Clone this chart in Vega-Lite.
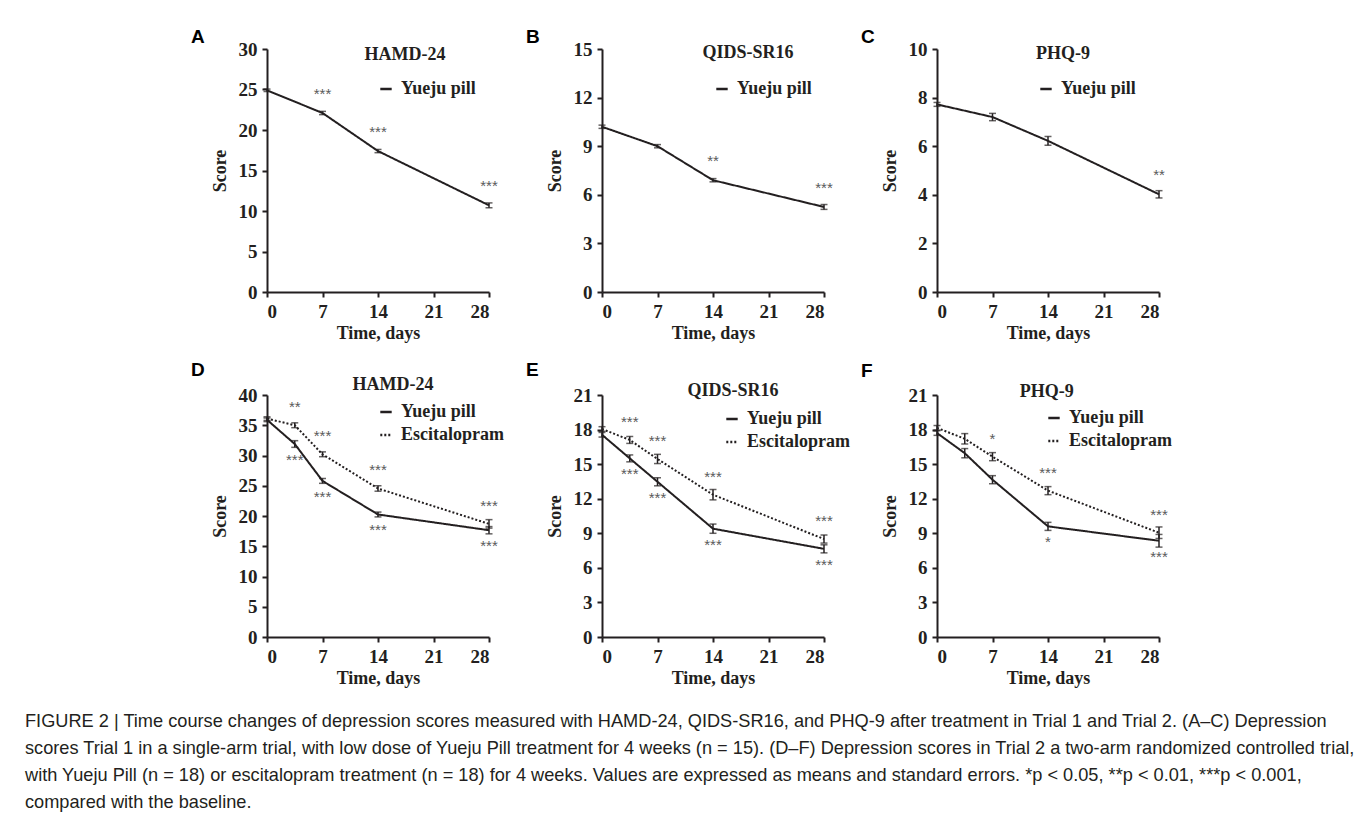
{
  "$schema": "https://vega.github.io/schema/vega-lite/v6.json",
  "autosize": {"type": "none"},
  "padding": {"left": 267, "top": 49, "right": 1090, "bottom": 784},
  "background": "white",
  "datasets": {
    "d": [
      {"panel": "A", "group": "Yueju pill", "day": 0, "mean": 24.9, "se": 0.15, "sig": ""},
      {"panel": "A", "group": "Yueju pill", "day": 7, "mean": 22.1, "se": 0.2, "sig": "***"},
      {"panel": "A", "group": "Yueju pill", "day": 14, "mean": 17.4, "se": 0.2, "sig": "***"},
      {"panel": "A", "group": "Yueju pill", "day": 28, "mean": 10.7, "se": 0.3, "sig": "***"},
      {"panel": "B", "group": "Yueju pill", "day": 0, "mean": 10.2, "se": 0.1, "sig": ""},
      {"panel": "B", "group": "Yueju pill", "day": 7, "mean": 9.0, "se": 0.1, "sig": ""},
      {"panel": "B", "group": "Yueju pill", "day": 14, "mean": 6.9, "se": 0.1, "sig": "**"},
      {"panel": "B", "group": "Yueju pill", "day": 28, "mean": 5.25, "se": 0.15, "sig": "***"},
      {"panel": "C", "group": "Yueju pill", "day": 0, "mean": 7.72, "se": 0.08, "sig": ""},
      {"panel": "C", "group": "Yueju pill", "day": 7, "mean": 7.2, "se": 0.15, "sig": ""},
      {"panel": "C", "group": "Yueju pill", "day": 14, "mean": 6.22, "se": 0.18, "sig": ""},
      {"panel": "C", "group": "Yueju pill", "day": 28, "mean": 4.02, "se": 0.15, "sig": "**"},
      {"panel": "D", "group": "Yueju pill", "day": 0, "mean": 35.9, "se": 0.3, "sig": ""},
      {"panel": "D", "group": "Yueju pill", "day": 3.5, "mean": 31.9, "se": 0.55, "sig": "***"},
      {"panel": "D", "group": "Yueju pill", "day": 7, "mean": 25.8, "se": 0.4, "sig": "***"},
      {"panel": "D", "group": "Yueju pill", "day": 14, "mean": 20.25, "se": 0.4, "sig": "***"},
      {"panel": "D", "group": "Yueju pill", "day": 28, "mean": 17.65, "se": 0.6, "sig": "***"},
      {"panel": "D", "group": "Escitalopram", "day": 0, "mean": 36.1, "se": 0.3, "sig": ""},
      {"panel": "D", "group": "Escitalopram", "day": 3.5, "mean": 35.0, "se": 0.4, "sig": "**"},
      {"panel": "D", "group": "Escitalopram", "day": 7, "mean": 30.2, "se": 0.4, "sig": "***"},
      {"panel": "D", "group": "Escitalopram", "day": 14, "mean": 24.55, "se": 0.45, "sig": "***"},
      {"panel": "D", "group": "Escitalopram", "day": 28, "mean": 18.7, "se": 0.7, "sig": "***"},
      {"panel": "E", "group": "Yueju pill", "day": 0, "mean": 17.55, "se": 0.2, "sig": ""},
      {"panel": "E", "group": "Yueju pill", "day": 3.5, "mean": 15.5, "se": 0.3, "sig": "***"},
      {"panel": "E", "group": "Yueju pill", "day": 7, "mean": 13.47, "se": 0.35, "sig": "***"},
      {"panel": "E", "group": "Yueju pill", "day": 14, "mean": 9.4, "se": 0.4, "sig": "***"},
      {"panel": "E", "group": "Yueju pill", "day": 28, "mean": 7.65, "se": 0.35, "sig": "***"},
      {"panel": "E", "group": "Escitalopram", "day": 0, "mean": 18.05, "se": 0.2, "sig": ""},
      {"panel": "E", "group": "Escitalopram", "day": 3.5, "mean": 17.1, "se": 0.3, "sig": "***"},
      {"panel": "E", "group": "Escitalopram", "day": 7, "mean": 15.45, "se": 0.4, "sig": "***"},
      {"panel": "E", "group": "Escitalopram", "day": 14, "mean": 12.35, "se": 0.45, "sig": "***"},
      {"panel": "E", "group": "Escitalopram", "day": 28, "mean": 8.5, "se": 0.35, "sig": "***"},
      {"panel": "F", "group": "Yueju pill", "day": 0, "mean": 17.7, "se": 0.2, "sig": ""},
      {"panel": "F", "group": "Yueju pill", "day": 3.5, "mean": 15.95, "se": 0.4, "sig": ""},
      {"panel": "F", "group": "Yueju pill", "day": 7, "mean": 13.65, "se": 0.35, "sig": ""},
      {"panel": "F", "group": "Yueju pill", "day": 14, "mean": 9.6, "se": 0.35, "sig": "*"},
      {"panel": "F", "group": "Yueju pill", "day": 28, "mean": 8.35, "se": 0.55, "sig": "***"},
      {"panel": "F", "group": "Escitalopram", "day": 0, "mean": 18.15, "se": 0.2, "sig": ""},
      {"panel": "F", "group": "Escitalopram", "day": 3.5, "mean": 17.2, "se": 0.45, "sig": ""},
      {"panel": "F", "group": "Escitalopram", "day": 7, "mean": 15.65, "se": 0.35, "sig": "*"},
      {"panel": "F", "group": "Escitalopram", "day": 14, "mean": 12.7, "se": 0.35, "sig": "***"},
      {"panel": "F", "group": "Escitalopram", "day": 28, "mean": 9.05, "se": 0.5, "sig": "***"}
    ],
    "names": [
      {"panel": "A", "label": "HAMD-24"},
      {"panel": "B", "label": "QIDS-SR16"},
      {"panel": "C", "label": "PHQ-9"},
      {"panel": "D", "label": "HAMD-24"},
      {"panel": "E", "label": "QIDS-SR16"},
      {"panel": "F", "label": "PHQ-9"}
    ]
  },
  "title": {
    "text": [
      "FIGURE 2 | Time course changes of depression scores measured with HAMD-24, QIDS-SR16, and PHQ-9 after treatment in Trial 1 and Trial 2. (A–C) Depression",
      "scores Trial 1 in a single-arm trial, with low dose of Yueju Pill treatment for 4 weeks (n = 15). (D–F) Depression scores in Trial 2 a two-arm randomized controlled trial,",
      "with Yueju Pill (n = 18) or escitalopram treatment (n = 18) for 4 weeks. Values are expressed as means and standard errors. *p < 0.05, **p < 0.01, ***p < 0.001,",
      "compared with the baseline."
    ],
    "orient": "bottom",
    "anchor": "start",
    "frame": "bounds",
    "dx": -166,
    "offset": 26,
    "font": "Liberation Sans",
    "fontSize": 18.2,
    "fontWeight": "normal",
    "color": "#231f20",
    "lineHeight": 27
  },
  "columns": 3,
  "bounds": "flush",
  "spacing": {"column": 113, "row": 103},
  "resolve": {"scale": {"strokeDash": "independent"}, "legend": {"strokeDash": "independent"}},
  "concat": [
    {
      "width": 222, "height": 243,
      "title": {"text": "A", "anchor": "start", "frame": "group", "dx": -76, "offset": -7},
      "layer": [
        {"data": {"name": "d"}, "transform": [{"filter": "datum.panel === 'A'"}],
         "mark": {"type": "line", "color": "#231f20", "strokeWidth": 2},
         "encoding": {
           "x": {"field": "day", "type": "quantitative", "title": "Time, days", "scale": {"domain": [0, 28], "nice": false}, "axis": {"values": [0, 7, 14, 21, 28], "tickCount": 40, "format": "d"}},
           "y": {"field": "mean", "type": "quantitative", "title": "Score", "scale": {"domain": [0, 30], "nice": false}, "axis": {"values": [0, 5, 10, 15, 20, 25, 30], "tickCount": 40, "format": "d"}},
           "strokeDash": {"field": "group", "type": "nominal", "scale": {"domain": ["Yueju pill"], "range": [[1, 0]]},
             "legend": {"orient": "none", "legendX": 110, "legendY": 31, "title": null}}}},
        {"data": {"name": "d"}, "transform": [{"filter": "datum.panel === 'A'"}],
         "mark": {"type": "errorbar", "ticks": {"size": 7}, "thickness": 1.5, "color": "#231f20"},
         "encoding": {
           "x": {"field": "day", "type": "quantitative", "title": "Time, days"},
           "y": {"field": "mean", "type": "quantitative", "title": "Score"}, "yError": {"field": "se"}}},
        {"data": {"name": "d"}, "transform": [{"filter": "datum.panel === 'A' && datum.sig != ''"}],
         "mark": {"type": "text", "dy": -19, "fontSize": 15, "font": "Liberation Sans", "fill": "#5a5a5a"},
         "encoding": {
           "x": {"field": "day", "type": "quantitative", "title": "Time, days"},
           "y": {"field": "mean", "type": "quantitative", "title": "Score"}, "text": {"field": "sig"}}},
        {"data": {"name": "names"}, "transform": [{"filter": "datum.panel === 'A'"}],
         "mark": {"type": "text", "font": "Liberation Serif", "fontWeight": "bold", "fontSize": 18, "fill": "#231f20"},
         "encoding": {"x": {"datum": 17.4, "title": "Time, days"}, "y": {"datum": 29.26, "title": "Score"}, "text": {"field": "label"}}}
      ]
    },
    {
      "width": 222, "height": 243,
      "title": {"text": "B", "anchor": "start", "frame": "group", "dx": -76, "offset": -7},
      "layer": [
        {"data": {"name": "d"}, "transform": [{"filter": "datum.panel === 'B'"}],
         "mark": {"type": "line", "color": "#231f20", "strokeWidth": 2},
         "encoding": {
           "x": {"field": "day", "type": "quantitative", "title": "Time, days", "scale": {"domain": [0, 28], "nice": false}, "axis": {"values": [0, 7, 14, 21, 28], "tickCount": 40, "format": "d"}},
           "y": {"field": "mean", "type": "quantitative", "title": "Score", "scale": {"domain": [0, 15], "nice": false}, "axis": {"values": [0, 3, 6, 9, 12, 15], "tickCount": 40, "format": "d"}},
           "strokeDash": {"field": "group", "type": "nominal", "scale": {"domain": ["Yueju pill"], "range": [[1, 0]]},
             "legend": {"orient": "none", "legendX": 111, "legendY": 31, "title": null}}}},
        {"data": {"name": "d"}, "transform": [{"filter": "datum.panel === 'B'"}],
         "mark": {"type": "errorbar", "ticks": {"size": 7}, "thickness": 1.5, "color": "#231f20"},
         "encoding": {
           "x": {"field": "day", "type": "quantitative", "title": "Time, days"},
           "y": {"field": "mean", "type": "quantitative", "title": "Score"}, "yError": {"field": "se"}}},
        {"data": {"name": "d"}, "transform": [{"filter": "datum.panel === 'B' && datum.sig != ''"}],
         "mark": {"type": "text", "dy": -19, "fontSize": 15, "font": "Liberation Sans", "fill": "#5a5a5a"},
         "encoding": {
           "x": {"field": "day", "type": "quantitative", "title": "Time, days"},
           "y": {"field": "mean", "type": "quantitative", "title": "Score"}, "text": {"field": "sig"}}},
        {"data": {"name": "names"}, "transform": [{"filter": "datum.panel === 'B'"}],
         "mark": {"type": "text", "font": "Liberation Serif", "fontWeight": "bold", "fontSize": 18, "fill": "#231f20"},
         "encoding": {"x": {"datum": 18.41, "title": "Time, days"}, "y": {"datum": 14.75, "title": "Score"}, "text": {"field": "label"}}}
      ]
    },
    {
      "width": 222, "height": 243,
      "title": {"text": "C", "anchor": "start", "frame": "group", "dx": -76, "offset": -7},
      "layer": [
        {"data": {"name": "d"}, "transform": [{"filter": "datum.panel === 'C'"}],
         "mark": {"type": "line", "color": "#231f20", "strokeWidth": 2},
         "encoding": {
           "x": {"field": "day", "type": "quantitative", "title": "Time, days", "scale": {"domain": [0, 28], "nice": false}, "axis": {"values": [0, 7, 14, 21, 28], "tickCount": 40, "format": "d"}},
           "y": {"field": "mean", "type": "quantitative", "title": "Score", "scale": {"domain": [0, 10], "nice": false}, "axis": {"values": [0, 2, 4, 6, 8, 10], "tickCount": 40, "format": "d"}},
           "strokeDash": {"field": "group", "type": "nominal", "scale": {"domain": ["Yueju pill"], "range": [[1, 0]]},
             "legend": {"orient": "none", "legendX": 100, "legendY": 31, "title": null}}}},
        {"data": {"name": "d"}, "transform": [{"filter": "datum.panel === 'C'"}],
         "mark": {"type": "errorbar", "ticks": {"size": 7}, "thickness": 1.5, "color": "#231f20"},
         "encoding": {
           "x": {"field": "day", "type": "quantitative", "title": "Time, days"},
           "y": {"field": "mean", "type": "quantitative", "title": "Score"}, "yError": {"field": "se"}}},
        {"data": {"name": "d"}, "transform": [{"filter": "datum.panel === 'C' && datum.sig != ''"}],
         "mark": {"type": "text", "dy": -19, "fontSize": 15, "font": "Liberation Sans", "fill": "#5a5a5a"},
         "encoding": {
           "x": {"field": "day", "type": "quantitative", "title": "Time, days"},
           "y": {"field": "mean", "type": "quantitative", "title": "Score"}, "text": {"field": "sig"}}},
        {"data": {"name": "names"}, "transform": [{"filter": "datum.panel === 'C'"}],
         "mark": {"type": "text", "font": "Liberation Serif", "fontWeight": "bold", "fontSize": 18, "fill": "#231f20"},
         "encoding": {"x": {"datum": 15.89, "title": "Time, days"}, "y": {"datum": 9.79, "title": "Score"}, "text": {"field": "label"}}}
      ]
    },
    {
      "width": 222, "height": 242,
      "title": {"text": "D", "anchor": "start", "frame": "group", "dx": -76, "offset": -3.5},
      "layer": [
        {"data": {"name": "d"}, "transform": [{"filter": "datum.panel === 'D'"}],
         "mark": {"type": "line", "color": "#231f20", "strokeWidth": 2},
         "encoding": {
           "x": {"field": "day", "type": "quantitative", "title": "Time, days", "scale": {"domain": [0, 28], "nice": false}, "axis": {"values": [0, 7, 14, 21, 28], "tickCount": 40, "format": "d"}},
           "y": {"field": "mean", "type": "quantitative", "title": "Score", "scale": {"domain": [0, 40], "nice": false}, "axis": {"values": [0, 5, 10, 15, 20, 25, 30, 35, 40], "tickCount": 40, "format": "d"}},
           "strokeDash": {"field": "group", "type": "nominal", "scale": {"domain": ["Yueju pill", "Escitalopram"], "range": [[1, 0], [2, 2]]},
             "legend": {"orient": "none", "legendX": 110, "legendY": 8, "title": null}}}},
        {"data": {"name": "d"}, "transform": [{"filter": "datum.panel === 'D'"}],
         "mark": {"type": "errorbar", "ticks": {"size": 7}, "thickness": 1.5, "color": "#231f20"},
         "encoding": {
           "x": {"field": "day", "type": "quantitative", "title": "Time, days"},
           "y": {"field": "mean", "type": "quantitative", "title": "Score"}, "yError": {"field": "se"}, "detail": {"field": "group"}}},
        {"data": {"name": "d"}, "transform": [{"filter": "datum.panel === 'D' && datum.sig != '' && datum.group === 'Yueju pill'"}],
         "mark": {"type": "text", "dy": 16, "fontSize": 15, "font": "Liberation Sans", "fill": "#5a5a5a"},
         "encoding": {
           "x": {"field": "day", "type": "quantitative", "title": "Time, days"},
           "y": {"field": "mean", "type": "quantitative", "title": "Score"}, "text": {"field": "sig"}}},
        {"data": {"name": "d"}, "transform": [{"filter": "datum.panel === 'D' && datum.sig != '' && datum.group === 'Escitalopram'"}],
         "mark": {"type": "text", "dy": -18, "fontSize": 15, "font": "Liberation Sans", "fill": "#5a5a5a"},
         "encoding": {
           "x": {"field": "day", "type": "quantitative", "title": "Time, days"},
           "y": {"field": "mean", "type": "quantitative", "title": "Score"}, "text": {"field": "sig"}}},
        {"data": {"name": "names"}, "transform": [{"filter": "datum.panel === 'D'"}],
         "mark": {"type": "text", "font": "Liberation Serif", "fontWeight": "bold", "fontSize": 18, "fill": "#231f20"},
         "encoding": {"x": {"datum": 15.89, "title": "Time, days"}, "y": {"datum": 41.65, "title": "Score"}, "text": {"field": "label"}}}
      ]
    },
    {
      "width": 222, "height": 242,
      "title": {"text": "E", "anchor": "start", "frame": "group", "dx": -76, "offset": 1.5},
      "layer": [
        {"data": {"name": "d"}, "transform": [{"filter": "datum.panel === 'E'"}],
         "mark": {"type": "line", "color": "#231f20", "strokeWidth": 2},
         "encoding": {
           "x": {"field": "day", "type": "quantitative", "title": "Time, days", "scale": {"domain": [0, 28], "nice": false}, "axis": {"values": [0, 7, 14, 21, 28], "tickCount": 40, "format": "d"}},
           "y": {"field": "mean", "type": "quantitative", "title": "Score", "scale": {"domain": [0, 21], "nice": false}, "axis": {"values": [0, 3, 6, 9, 12, 15, 18, 21], "tickCount": 40, "format": "d"}},
           "strokeDash": {"field": "group", "type": "nominal", "scale": {"domain": ["Yueju pill", "Escitalopram"], "range": [[1, 0], [2, 2]]},
             "legend": {"orient": "none", "legendX": 121, "legendY": 15, "title": null}}}},
        {"data": {"name": "d"}, "transform": [{"filter": "datum.panel === 'E'"}],
         "mark": {"type": "errorbar", "ticks": {"size": 7}, "thickness": 1.5, "color": "#231f20"},
         "encoding": {
           "x": {"field": "day", "type": "quantitative", "title": "Time, days"},
           "y": {"field": "mean", "type": "quantitative", "title": "Score"}, "yError": {"field": "se"}, "detail": {"field": "group"}}},
        {"data": {"name": "d"}, "transform": [{"filter": "datum.panel === 'E' && datum.sig != '' && datum.group === 'Yueju pill'"}],
         "mark": {"type": "text", "dy": 16, "fontSize": 15, "font": "Liberation Sans", "fill": "#5a5a5a"},
         "encoding": {
           "x": {"field": "day", "type": "quantitative", "title": "Time, days"},
           "y": {"field": "mean", "type": "quantitative", "title": "Score"}, "text": {"field": "sig"}}},
        {"data": {"name": "d"}, "transform": [{"filter": "datum.panel === 'E' && datum.sig != '' && datum.group === 'Escitalopram'"}],
         "mark": {"type": "text", "dy": -18, "fontSize": 15, "font": "Liberation Sans", "fill": "#5a5a5a"},
         "encoding": {
           "x": {"field": "day", "type": "quantitative", "title": "Time, days"},
           "y": {"field": "mean", "type": "quantitative", "title": "Score"}, "text": {"field": "sig"}}},
        {"data": {"name": "names"}, "transform": [{"filter": "datum.panel === 'E'"}],
         "mark": {"type": "text", "font": "Liberation Serif", "fontWeight": "bold", "fontSize": 18, "fill": "#231f20"},
         "encoding": {"x": {"datum": 16.52, "title": "Time, days"}, "y": {"datum": 21.35, "title": "Score"}, "text": {"field": "label"}}}
      ]
    },
    {
      "width": 222, "height": 242,
      "title": {"text": "F", "anchor": "start", "frame": "group", "dx": -76, "offset": 1.5},
      "layer": [
        {"data": {"name": "d"}, "transform": [{"filter": "datum.panel === 'F'"}],
         "mark": {"type": "line", "color": "#231f20", "strokeWidth": 2},
         "encoding": {
           "x": {"field": "day", "type": "quantitative", "title": "Time, days", "scale": {"domain": [0, 28], "nice": false}, "axis": {"values": [0, 7, 14, 21, 28], "tickCount": 40, "format": "d"}},
           "y": {"field": "mean", "type": "quantitative", "title": "Score", "scale": {"domain": [0, 21], "nice": false}, "axis": {"values": [0, 3, 6, 9, 12, 15, 18, 21], "tickCount": 40, "format": "d"}},
           "strokeDash": {"field": "group", "type": "nominal", "scale": {"domain": ["Yueju pill", "Escitalopram"], "range": [[1, 0], [2, 2]]},
             "legend": {"orient": "none", "legendX": 108, "legendY": 14, "title": null}}}},
        {"data": {"name": "d"}, "transform": [{"filter": "datum.panel === 'F'"}],
         "mark": {"type": "errorbar", "ticks": {"size": 7}, "thickness": 1.5, "color": "#231f20"},
         "encoding": {
           "x": {"field": "day", "type": "quantitative", "title": "Time, days"},
           "y": {"field": "mean", "type": "quantitative", "title": "Score"}, "yError": {"field": "se"}, "detail": {"field": "group"}}},
        {"data": {"name": "d"}, "transform": [{"filter": "datum.panel === 'F' && datum.sig != '' && datum.group === 'Yueju pill'"}],
         "mark": {"type": "text", "dy": 16, "fontSize": 15, "font": "Liberation Sans", "fill": "#5a5a5a"},
         "encoding": {
           "x": {"field": "day", "type": "quantitative", "title": "Time, days"},
           "y": {"field": "mean", "type": "quantitative", "title": "Score"}, "text": {"field": "sig"}}},
        {"data": {"name": "d"}, "transform": [{"filter": "datum.panel === 'F' && datum.sig != '' && datum.group === 'Escitalopram'"}],
         "mark": {"type": "text", "dy": -18, "fontSize": 15, "font": "Liberation Sans", "fill": "#5a5a5a"},
         "encoding": {
           "x": {"field": "day", "type": "quantitative", "title": "Time, days"},
           "y": {"field": "mean", "type": "quantitative", "title": "Score"}, "text": {"field": "sig"}}},
        {"data": {"name": "names"}, "transform": [{"filter": "datum.panel === 'F'"}],
         "mark": {"type": "text", "font": "Liberation Serif", "fontWeight": "bold", "fontSize": 18, "fill": "#231f20"},
         "encoding": {"x": {"datum": 13.83, "title": "Time, days"}, "y": {"datum": 21.29, "title": "Score"}, "text": {"field": "label"}}}
      ]
    }
  ],
  "config": {
    "view": {"stroke": null},
    "title": {"font": "Liberation Sans", "fontSize": 19, "fontWeight": "bold", "color": "#000000"},
    "axis": {
      "grid": false, "labelOverlap": false,
      "domainColor": "#231f20", "domainWidth": 2,
      "tickColor": "#231f20", "tickWidth": 2, "tickSize": 5,
      "labelFont": "Liberation Serif", "labelFontWeight": "bold", "labelFontSize": 19, "labelColor": "#231f20",
      "titleFont": "Liberation Serif", "titleFontWeight": "bold", "titleFontSize": 18, "titleColor": "#231f20"
    },
    "axisX": {"labelPadding": 5, "titlePadding": 3, "labelAngle": 0},
    "axisY": {"labelPadding": 5, "titlePadding": 8, "minExtent": 30, "maxExtent": 30},
    "legend": {
      "symbolType": "stroke", "symbolSize": 130, "symbolStrokeWidth": 2.5, "symbolStrokeColor": "#231f20",
      "labelFont": "Liberation Serif", "labelFontWeight": "bold", "labelFontSize": 18, "labelColor": "#231f20",
      "rowPadding": 5, "padding": 0, "labelOffset": 6
    }
  }
}
